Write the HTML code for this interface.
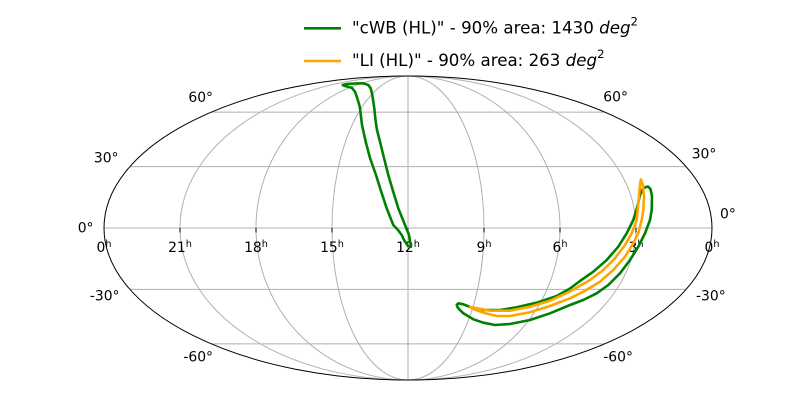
<!DOCTYPE html>
<html>
<head>
<meta charset="utf-8">
<style>
  html, body { margin: 0; padding: 0; background: #ffffff; }
  svg { display: block; }
  text { font-family: "DejaVu Sans", "Liberation Sans", sans-serif; fill: #000; }
</style>
</head>
<body>
<svg width="800" height="400" viewBox="0 0 800 400" xmlns="http://www.w3.org/2000/svg">
  <rect x="0" y="0" width="800" height="400" fill="#ffffff"/>

  <!-- grid: meridians -->
  <g fill="none" stroke="#b0b0b0" stroke-width="1">
    <ellipse cx="408" cy="228" rx="76" ry="152"/>
    <ellipse cx="408" cy="228" rx="152" ry="152"/>
    <ellipse cx="408" cy="228" rx="228" ry="152"/>
    <line x1="408" y1="76" x2="408" y2="380"/>
    <!-- parallels -->
    <line x1="104" y1="228" x2="712" y2="228"/>
    <line x1="130" y1="166.6" x2="686" y2="166.6"/>
    <line x1="130" y1="289.4" x2="686" y2="289.4"/>
    <line x1="211.5" y1="112.1" x2="604.5" y2="112.1"/>
    <line x1="211.5" y1="343.9" x2="604.5" y2="343.9"/>
  </g>

  <!-- outer boundary -->
  <ellipse cx="408" cy="228" rx="304" ry="152" fill="none" stroke="#000" stroke-width="1"/>

  <!-- ticks -->
  <g stroke="#000" stroke-width="1">
    <line x1="180" y1="228" x2="180" y2="232.5"/>
    <line x1="256" y1="228" x2="256" y2="232.5"/>
    <line x1="332" y1="228" x2="332" y2="232.5"/>
    <line x1="408" y1="228" x2="408" y2="232.5"/>
    <line x1="484" y1="228" x2="484" y2="232.5"/>
    <line x1="560" y1="228" x2="560" y2="232.5"/>
    <line x1="636" y1="228" x2="636" y2="232.5"/>
  </g>

  <!-- latitude labels -->
  <g font-size="13.9">
    <text x="213" y="102" text-anchor="end">60°</text>
    <text x="118.5" y="162.7" text-anchor="end">30°</text>
    <text x="93.5" y="232.7" text-anchor="end">0°</text>
    <text x="119.5" y="300.7" text-anchor="end">-30°</text>
    <text x="213" y="361.7" text-anchor="end">-60°</text>

    <text x="603.3" y="101.7">60°</text>
    <text x="691.7" y="158.3">30°</text>
    <text x="720" y="218.3">0°</text>
    <text x="696" y="300.7">-30°</text>
    <text x="603.3" y="361.7">-60°</text>
  </g>

  <!-- longitude labels -->
  <g font-size="13.9" text-anchor="middle">
    <text x="104" y="252">0<tspan font-size="9.7" dy="-5">h</tspan></text>
    <text x="180" y="252">21<tspan font-size="9.7" dy="-5">h</tspan></text>
    <text x="256" y="252">18<tspan font-size="9.7" dy="-5">h</tspan></text>
    <text x="332" y="252">15<tspan font-size="9.7" dy="-5">h</tspan></text>
    <text x="408" y="252">12<tspan font-size="9.7" dy="-5">h</tspan></text>
    <text x="484" y="252">9<tspan font-size="9.7" dy="-5">h</tspan></text>
    <text x="560" y="252">6<tspan font-size="9.7" dy="-5">h</tspan></text>
    <text x="636" y="252">3<tspan font-size="9.7" dy="-5">h</tspan></text>
    <text x="712" y="252">0<tspan font-size="9.7" dy="-5">h</tspan></text>
  </g>

  <!-- cWB contours (green) -->
  <g fill="none" stroke="#008000" stroke-width="2.6" stroke-linejoin="round" stroke-linecap="round">
    <path d="M342.7,85 L346.7,84 L355,83.5 L363.3,83.3 L368.3,85 L370.7,88.3 L372.3,95 L373.3,101.7 L374.3,108.3 L375.5,120 L377,130 L380,141.7 L384,158 L388.3,175 L393,191 L398.3,208.3 L405,225 L409,235 L411,246.7 L408,246 L404,240 L401.7,235 L398,230 L393.3,225 L386.7,208.3 L381,191 L376,175 L370,158 L365.7,141.7 L362,125 L360,108.3 L359.3,105 L357.3,98.3 L355,91.7 L351.7,87.7 L345,86 Z"/>
    <path d="M645,187.5 L648,186.5 L650.5,189 L652,196 L651.7,210 L650,220 L645,233.3 L638.3,246.7 L630,260 L620,273.3 L608.3,285 L596.7,293.3 L583.3,300 L570,305 L550,313.3 L530,320 L510,324 L495,325 L483.3,322.7 L473.3,319.3 L463.3,313.3 L458,308 L456.7,305 L458.3,303.3 L463.3,304.3 L470,307 L483.3,310 L500,310 L516.7,307.3 L536.7,302.7 L556.7,296 L570,288.5 L580,281 L593.3,271.7 L606.7,260 L618.3,246.7 L626.7,233.3 L633.3,220 L637,208 L640,195 L643,188.5 Z"/>
  </g>

  <!-- LI contour (orange) -->
  <g fill="none" stroke="#ffa500" stroke-width="2.6" stroke-linejoin="round" stroke-linecap="round">
    <path d="M641,179.5 L643,186 L644,197 L643.3,210 L641.7,220 L638.3,233.3 L633.3,243.3 L625,256.7 L613.3,270 L600,281.7 L583.3,291.7 L570,298.3 L550,306 L530,312.3 L510,316 L496.7,316 L483.3,312.7 L472,308.5 L470,307 L490,310.7 L510,310.7 L530,306.7 L550,300.7 L570,291.5 L590,280 L603.3,270 L615,258.3 L625,245 L631.7,233.3 L636.7,220 L638.3,203.3 L640,185 Z"/>
  </g>

  <!-- legend -->
  <line x1="304" y1="28.3" x2="341" y2="28.3" stroke="#008000" stroke-width="2.6"/>
  <line x1="304" y1="61" x2="341" y2="61" stroke="#ffa500" stroke-width="2.6"/>
  <text x="352" y="33.3" font-size="16.67">"cWB (HL)" - 90% area: 1430 <tspan font-style="italic">deg</tspan><tspan font-size="11.7" dy="-8">2</tspan></text>
  <text x="352" y="66" font-size="16.67">"LI (HL)" - 90% area: 263 <tspan font-style="italic">deg</tspan><tspan font-size="11.7" dy="-8">2</tspan></text>
</svg>
</body>
</html>
